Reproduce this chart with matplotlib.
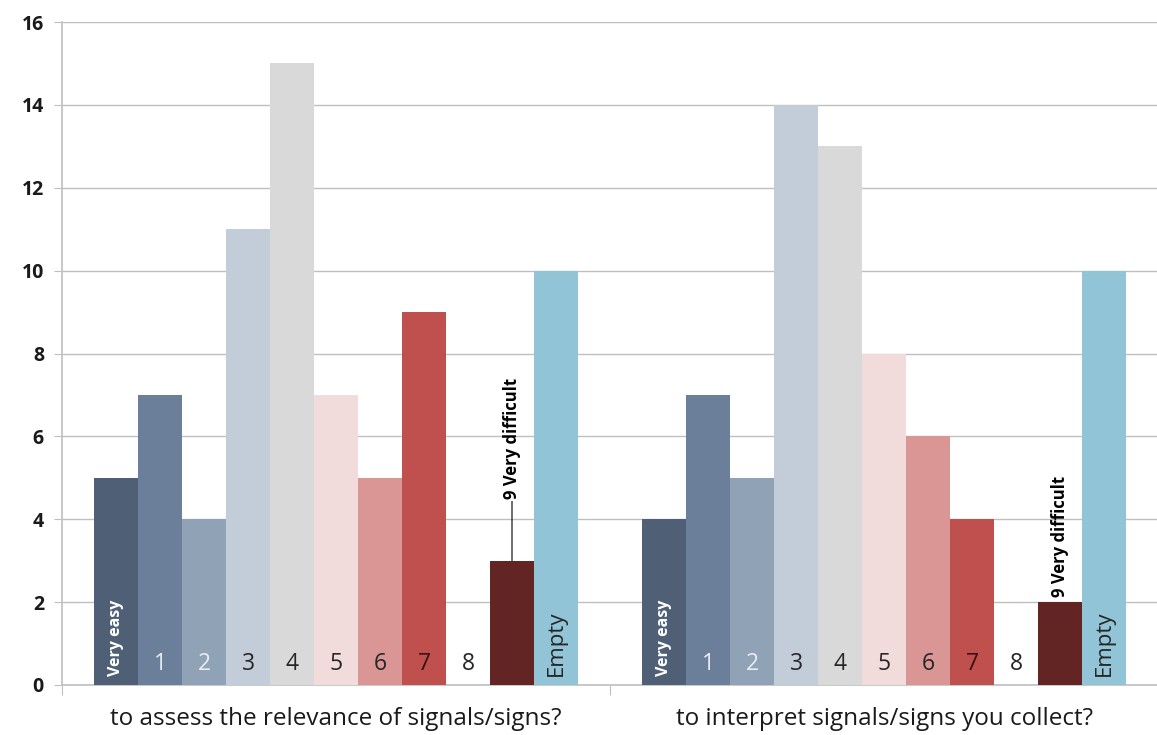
import matplotlib
matplotlib.use("Agg")
import matplotlib.pyplot as plt
import numpy as np

# Survey responses: difficulty rating for two questions
questions = ["to assess the relevance of signals/signs?",
             "to interpret signals/signs you collect?"]
ratings = ["Very easy", "1", "2", "3", "4", "5", "6", "7", "8",
           "9 Very difficult", "Empty"]
assess_counts = [5, 7, 4, 11, 15, 7, 5, 9, 0, 3, 10]
interpret_counts = [4, 7, 5, 14, 13, 8, 6, 4, 0, 2, 10]

bar_colors = ["#4F5F75", "#6B7F9B", "#8FA2B6", "#C3CDD9", "#D9D9D9",
              "#F2DCDB", "#DA9694", "#C0504D", "#FFFFFF", "#632523", "#92C4D7"]
label_colors = ["white", "#E8EDF3", "#E8EDF3", "#262626", "#262626", "#262626",
                "#262626", "#3a1010", "#262626", "#262626", "#262626"]

plt.rcParams['font.family'] = ['Open Sans', 'DejaVu Sans']

fig = plt.figure(figsize=(11.57, 7.35), dpi=100)
ax = fig.add_axes([62 / 1157, 50 / 735, 1096 / 1157, 663 / 735])

width = 44 / 548
n = len(ratings)
grid_col = "#BFBFBF"

for g, counts in enumerate([assess_counts, interpret_counts]):
    xs = g + (np.arange(n) - (n - 1) / 2) * width
    ax.bar(xs, counts, width=width, color=bar_colors, zorder=3, linewidth=0)
    for i, (x, v) in enumerate(zip(xs, counts)):
        lab = ratings[i]
        if lab == "Very easy":
            ax.text(x, 0.22, lab, rotation=90, ha="center", va="bottom",
                    color="white", fontsize=11.5, fontweight="bold", zorder=4)
        elif lab == "Empty":
            ax.text(x, 0.22, lab, rotation=90, ha="center", va="bottom",
                    color="#262626", fontsize=16, zorder=4)
        elif lab.startswith("9"):
            if g == 0:
                ax.annotate(lab, xy=(x, v), xytext=(x, v + 1.5),
                            rotation=90, ha="center", va="bottom",
                            fontsize=12, fontweight="bold", color="black",
                            arrowprops=dict(arrowstyle="-", color="black", lw=0.8,
                                            shrinkA=0, shrinkB=0),
                            zorder=4)
            else:
                ax.text(x, v + 0.12, lab, rotation=90, ha="center", va="bottom",
                        fontsize=12, fontweight="bold", color="black", zorder=4)
        else:
            ax.text(x, 0.5, lab, ha="center", va="center",
                    color=label_colors[i], fontsize=16.5, zorder=4)

ax.set_xlim(-0.5, 1.5)
ax.set_ylim(0, 16)
ax.set_yticks(np.arange(0, 17, 2))
ax.tick_params(axis="y", length=6, color=grid_col, labelsize=14, pad=7)
for t in ax.get_yticklabels():
    t.set_fontweight("bold")
    t.set_color("#1a1a1a")
ax.yaxis.grid(True, color=grid_col, linewidth=1.0, zorder=0)

ax.set_xticks([-0.5, 0.5, 1.5])
ax.set_xticklabels([])
ax.set_xticks([0, 1], minor=True)
ax.set_xticklabels(questions, minor=True)
ax.tick_params(axis="x", which="major", length=7, color=grid_col)
ax.tick_params(axis="x", which="minor", length=0, pad=16, labelsize=17.5,
               labelcolor="#1a1a1a")

for s in ["top", "right"]:
    ax.spines[s].set_visible(False)
for s in ["left", "bottom"]:
    ax.spines[s].set_color(grid_col)
    ax.spines[s].set_linewidth(1.2)
ax.set_axisbelow(True)

fig.savefig("out.png", dpi=100)
